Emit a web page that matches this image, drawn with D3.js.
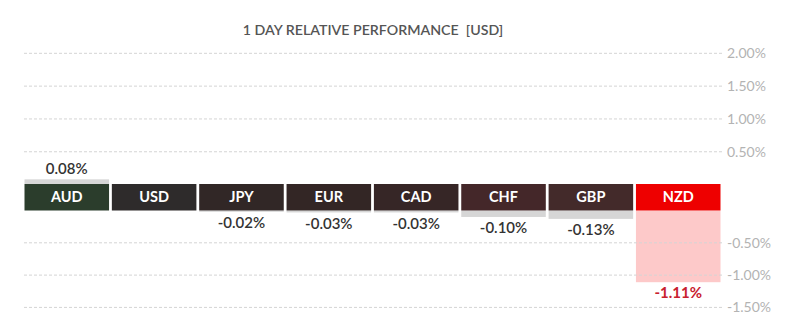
<!DOCTYPE html>
<html><head><meta charset="utf-8">
<script src="https://cdn.jsdelivr.net/npm/d3@7"></script>
<style>body{margin:0;background:#fff}svg{display:block}text{font-family:Lato,"Open Sans",sans-serif}</style>
</head><body><svg id="c" width="800" height="333"></svg>
<script>
const currencies = ["AUD","USD","JPY","EUR","CAD","CHF","GBP","NZD"];
const values = [0.08, 0.00, -0.02, -0.03, -0.03, -0.10, -0.13, -1.11];
const bandColors = ["#2b3d2c","#2e2b2b","#312726","#332625","#362626","#442729","#432a2a","#ee0000"];
const posTicks = [2.0, 1.5, 1.0, 0.5];
const negTicks = [-0.5, -1.0, -1.5];
const title = "1 DAY RELATIVE PERFORMANCE  [USD]";

const svg = d3.select("#c");
const x = d3.scaleBand().domain(currencies).range([24.5, 720.5]).paddingInner(0.032).paddingOuter(0);
const bandTop = 184, bandBottom = 210.5;
const yPos = d3.scaleLinear().domain([0, 2]).range([bandTop + 0.6, 53.3]);
const yNeg = d3.scaleLinear().domain([-1.5, 0]).range([307.4, bandBottom]);
const fmt = v => v.toFixed(2) + "%";

svg.append("text").attr("x", 373).attr("y", 35).attr("text-anchor", "middle")
  .attr("font-size", 14.2).attr("font-weight", 600).attr("fill", "#555").style("white-space","pre").text(title);

const data = currencies.map((c, i) => ({c, v: values[i], col: bandColors[i]}));
svg.selectAll("rect.val").data(data.filter(d => d.v !== 0)).join("rect")
  .attr("x", d => x(d.c)).attr("width", x.bandwidth())
  .attr("y", d => d.v > 0 ? yPos(d.v) : bandBottom)
  .attr("height", d => d.v > 0 ? bandTop - yPos(d.v) : yNeg(d.v) - bandBottom)
  .attr("fill", d => d.c === "NZD" ? "#fdc9c9" : "#d6d6d6");

const grid = svg.append("g");
const gx1 = 24, gx2 = 722;
function gridLine(yy, t) {
  grid.append("line").attr("x1", gx1).attr("x2", gx2).attr("y1", yy).attr("y2", yy)
    .attr("stroke", "#d4d4d4").attr("stroke-dasharray", "3,2").attr("stroke-width", 1);
  grid.append("text").attr("x", 727).attr("y", yy).attr("dy", "0.35em")
    .attr("font-size", 14).attr("font-weight", 400).attr("fill", "#b3b3b3").text(fmt(t));
}
posTicks.forEach(t => gridLine(yPos(t), t));
negTicks.forEach(t => gridLine(yNeg(t), t));

svg.selectAll("rect.band").data(data).join("rect")
  .attr("x", d => x(d.c)).attr("width", x.bandwidth())
  .attr("y", bandTop).attr("height", bandBottom - bandTop).attr("fill", d => d.col);
svg.selectAll("text.band").data(data).join("text")
  .attr("x", d => x(d.c) + x.bandwidth() / 2).attr("y", (bandTop + bandBottom) / 2).attr("dy", "0.36em")
  .attr("text-anchor", "middle").attr("font-size", 14.5).attr("font-weight", 700).attr("fill", "#fff").text(d => d.c);

svg.selectAll("text.val").data(data.filter(d => d.v !== 0)).join("text")
  .attr("x", d => x(d.c) + x.bandwidth() / 2)
  .attr("y", d => d.v > 0 ? yPos(d.v) - 11 : yNeg(d.v) + 11)
  .attr("dy", "0.35em").attr("text-anchor", "middle").attr("font-size", 15)
  .attr("font-weight", d => d.c === "NZD" ? 700 : 600)
  .attr("fill", d => d.c === "NZD" ? "#c8202e" : "#333").text(d => fmt(d.v));
</script></body></html>
